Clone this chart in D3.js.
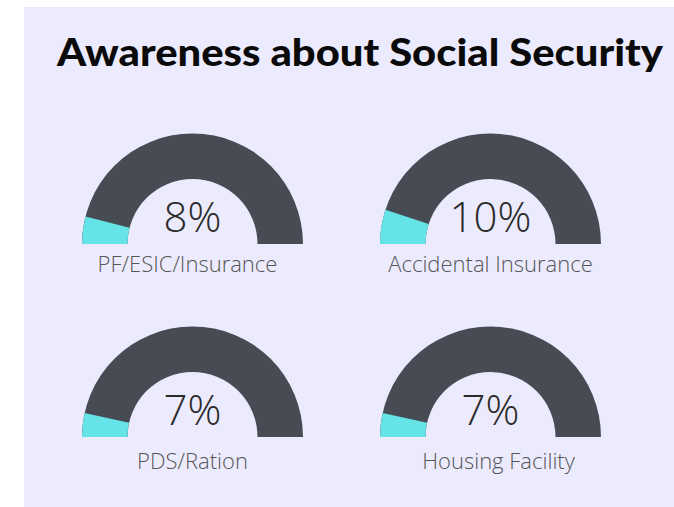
<!DOCTYPE html>
<meta charset="utf-8">
<script src="https://cdn.jsdelivr.net/npm/d3@7"></script>
<style>
  body { margin: 0; background: #fff; }
  text { font-family: "Open Sans", sans-serif; }
</style>
<body>
<script>

  // data
  var categories = ["PF/ESIC/Insurance", "Accidental Insurance", "PDS/Ration", "Housing Facility"];
  var values = [8, 10, 7, 7];
  var title = "Awareness about Social Security";

  var width = 674,
      height = 507;

  var svg = d3.select("body").append("svg")
      .attr("width", width)
      .attr("height", height);

  // lavender panel
  svg.append("rect")
      .attr("x", 24)
      .attr("y", 7)
      .attr("width", width - 24)
      .attr("height", height - 7)
      .style("fill", "#ecebfd");

  svg.append("text")
      .attr("x", 360)
      .attr("y", 66)
      .attr("text-anchor", "middle")
      .attr("textLength", 606)
      .attr("lengthAdjust", "spacingAndGlyphs")
      .style("font-family", "Lato, sans-serif")
      .style("font-weight", 900)
      .style("font-size", "38px")
      .style("fill", "#0a0a0a")
      .text(title);

  // gauge layout: 2 columns x 2 rows
  var col = d3.scaleOrdinal().domain([0, 1]).range([192.5, 490.5]);
  var row = d3.scaleOrdinal().domain([0, 1]).range([244, 437]);

  // value -> angle, half circle from left to right
  var angle = d3.scaleLinear().domain([0, 100]).range([-Math.PI / 2, Math.PI / 2]);

  var arc = d3.arc()
      .innerRadius(65)
      .outerRadius(110.5);

  var gauge = svg.selectAll(".gauge")
      .data(categories)
      .enter().append("g")
      .attr("class", "gauge")
      .attr("transform", function(d, i) {
        return "translate(" + col(i % 2) + "," + row(Math.floor(i / 2)) + ")";
      });

  // background track
  gauge.append("path")
      .attr("d", function() {
        return arc({startAngle: angle(0), endAngle: angle(100)});
      })
      .style("fill", "#474c54");

  // value part
  gauge.append("path")
      .attr("d", function(d, i) {
        return arc({startAngle: angle(0), endAngle: angle(values[i])});
      })
      .style("fill", "#66e3e6");

  gauge.append("text")
      .attr("x", 0)
      .attr("y", -12)
      .attr("text-anchor", "middle")
      .style("font-weight", 300)
      .style("font-size", "42px")
      .style("fill", "#2a2a2a")
      .text(function(d, i) { return values[i] + "%"; });

  gauge.append("text")
      .attr("x", function(d, i) { return [-5, 0, 0, 8][i]; })
      .attr("y", function(d, i) { return i < 2 ? 28 : 32; })
      .attr("text-anchor", "middle")
      .style("font-weight", 300)
      .style("font-size", "22px")
      .style("fill", "#555")
      .text(function(d) { return d; });

</script>
</body>
